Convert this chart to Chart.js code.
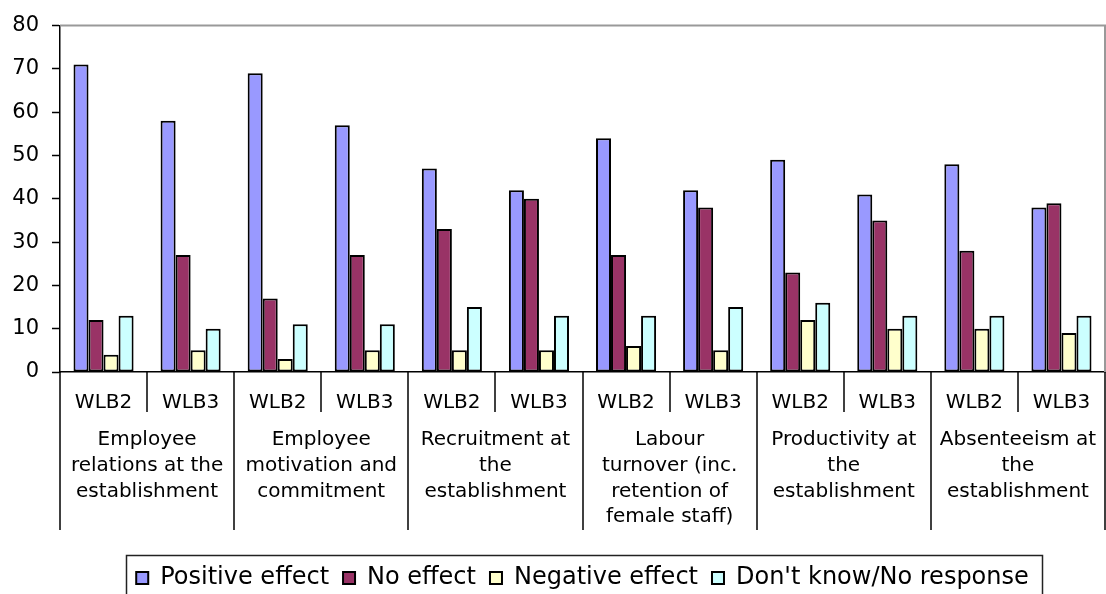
<!DOCTYPE html>
<html>
<head>
<meta charset="utf-8">
<script src="https://cdn.jsdelivr.net/npm/chart.js@4.4.1/dist/chart.umd.min.js"></script>
<style>
html,body{margin:0;padding:0;background:#fff;}
#wrap{width:1106px;height:594px;}
</style>
</head>
<body>
<div id="wrap"><canvas id="c" width="1106" height="594"></canvas></div>
<script>
// ---- data ----
const surveys = ["WLB2","WLB3","WLB2","WLB3","WLB2","WLB3","WLB2","WLB3","WLB2","WLB3","WLB2","WLB3"];
const groupLabels = [
  ["Employee","relations at the","establishment"],
  ["Employee","motivation and","commitment"],
  ["Recruitment at","the","establishment"],
  ["Labour","turnover (inc.","retention of","female staff)"],
  ["Productivity at","the","establishment"],
  ["Absenteeism at","the","establishment"]
];
const seriesNames = ["Positive effect","No effect","Negative effect","Don't know/No response"];
const positiveEffect = [71,58,69,57,47,42,54,42,49,41,48,38];
const noEffect       = [12,27,17,27,33,40,27,38,23,35,28,39];
const negativeEffect = [4,5,3,5,5,5,6,5,12,10,10,9];
const dontKnow       = [13,10,11,11,15,13,13,15,16,13,13,13];
const yTicks = [0,10,20,30,40,50,60,70,80];

const colors = ["#9999FF","#993366","#FFFFCC","#CCFFFF"];
const FONT = "'DejaVu Sans', Verdana, sans-serif";

const decor = {
  id: 'decor',
  afterDraw(chart) {
    const ctx = chart.ctx;
    const ca = chart.chartArea;
    const xs = chart.scales.x;
    ctx.save();
    // plot border top & right
    ctx.strokeStyle = '#999999';
    ctx.lineWidth = 2;
    ctx.beginPath();
    ctx.moveTo(ca.left, ca.top);
    ctx.lineTo(ca.right, ca.top);
    ctx.lineTo(ca.right, ca.bottom);
    ctx.stroke();
    // category separators
    const p0 = xs.getPixelForValue(0);
    const half = (xs.getPixelForValue(1) - p0) / 2;
    ctx.strokeStyle = '#000';
    ctx.lineWidth = 1.5;
    const n = surveys.length;
    for (let i = 0; i <= n; i++) {
      const x = Math.round(p0 - half + i * 2 * half);
      const len = (i % 2 === 0) ? 158 : 40;
      ctx.beginPath();
      ctx.moveTo(x, ca.bottom);
      ctx.lineTo(x, ca.bottom + len);
      ctx.stroke();
    }
    // group labels
    ctx.fillStyle = '#000';
    ctx.font = "20px " + FONT;
    ctx.textAlign = 'center';
    ctx.textBaseline = 'middle';
    groupLabels.forEach((lines, g) => {
      const cx = p0 - half + (2 * g + 1) * 2 * half;
      lines.forEach((t, k) => {
        ctx.fillText(t, cx, ca.bottom + 68 + k * 25.7);
      });
    });
    // legend border
    const lg = chart.legend;
    if (lg && lg.legendHitBoxes && lg.legendHitBoxes.length) {
      const hb = lg.legendHitBoxes;
      const l = hb[0].left - 10;
      const last = hb[hb.length - 1];
      const r = last.left + last.width + 13;
      ctx.strokeStyle = '#222';
      ctx.lineWidth = 1.5;
      ctx.strokeRect(Math.round(l) + 0.5, lg.top + 3.5, Math.round(r - l), 60);
    }
    ctx.restore();
  }
};

const datasets = [positiveEffect, noEffect, negativeEffect, dontKnow].map((d, i) => ({
  label: seriesNames[i],
  data: d,
  backgroundColor: colors[i],
  borderColor: '#000',
  borderWidth: 2,
  borderSkipped: false,
  categoryPercentage: 0.69,
  barPercentage: 1.0
}));

new Chart(document.getElementById('c'), {
  type: 'bar',
  data: { labels: surveys, datasets },
  options: {
    responsive: false,
    animation: false,
    layout: { padding: { top: 20, right: 1, left: 0, bottom: -6 } },
    plugins: {
      tooltip: { enabled: false },
      legend: {
        position: 'bottom',
        fullSize: false,
        labels: {
          boxWidth: 12,
          boxHeight: 12,
          padding: 14,
          color: '#000',
          font: { family: FONT, size: 24 }
        }
      }
    },
    scales: {
      x: {
        type: 'category',
        grid: { display: false },
        border: { display: true, color: '#000', width: 1.5 },
        ticks: { color: '#000', padding: 11, font: { family: FONT, size: 20 }, maxRotation: 0, autoSkip: false },
        afterFit(scale) { scale.height = 180; }
      },
      y: {
        min: 0, max: 80,
        afterBuildTicks(scale) { scale.ticks = yTicks.map(v => ({ value: v })); },
        grid: { display: true, drawOnChartArea: false, drawTicks: true, tickLength: 8, tickColor: '#000', tickWidth: 1.5 },
        border: { display: true, color: '#000', width: 1.5 },
        ticks: { color: '#000', padding: 13, font: { family: FONT, size: 21 } },
        afterFit(scale) { scale.width = 60; }
      }
    }
  },
  plugins: [decor]
});
</script>
</body>
</html>
